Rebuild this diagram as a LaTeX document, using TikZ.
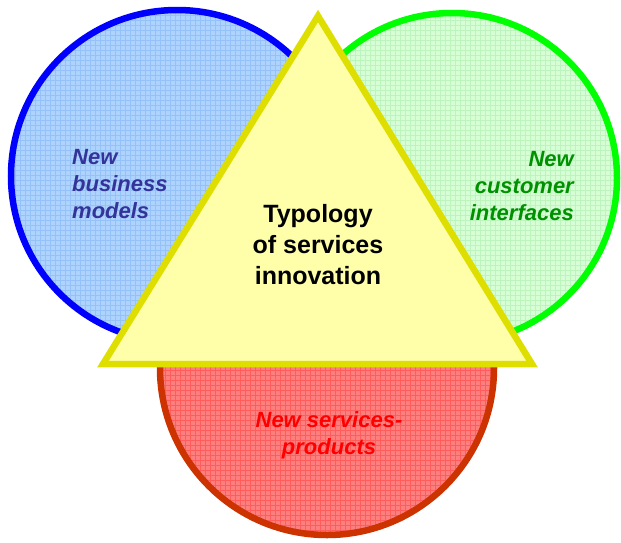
\documentclass[tikz,border=0pt]{standalone}
\usepackage{fontspec}
\setmainfont{Liberation Sans}
\begin{document}
\begin{tikzpicture}[x=1pt,y=-1pt,
  ring/.style={line width=6.5pt},
  gridlines/.style={line width=0.8pt},
  label/.style={inner sep=0pt,font=\fontsize{22}{27}\selectfont\bfseries\itshape},
  title/.style={inner sep=0pt,align=center,font=\fontsize{25}{31}\selectfont\bfseries}]
\definecolor{bluering}{HTML}{0000FF}
\definecolor{bluefill}{HTML}{AED3FF}
\definecolor{bluegrid}{HTML}{93C1F8}
\definecolor{bluetext}{HTML}{333399}
\definecolor{greenring}{HTML}{00FF00}
\definecolor{greenfill}{HTML}{D6FFD6}
\definecolor{greengrid}{HTML}{BDF4BD}
\definecolor{greentext}{HTML}{009100}
\definecolor{redring}{HTML}{CC3300}
\definecolor{redfill}{HTML}{FF7F7F}
\definecolor{redgrid}{HTML}{FF5C5C}
\definecolor{redtext}{HTML}{FF0000}
\definecolor{trifill}{HTML}{FFFFAA}
\definecolor{triring}{HTML}{DEDE00}

\useasboundingbox (0,0) rectangle (621,542);

% products circle (bottom)
\fill[redfill] (327,368) circle[radius=167];
\begin{scope}
  \clip (327,368) circle[radius=167];
  \draw[gridlines,redgrid,step=5pt] (150,190) grid (510,545);
\end{scope}
\draw[ring,redring] (327,368) circle[radius=167];

% business models circle (left)
\fill[bluefill] (177,176) circle[radius=166];
\begin{scope}
  \clip (177,176) circle[radius=166];
  \draw[gridlines,bluegrid,step=5pt] (5,5) grid (350,350);
\end{scope}
\draw[ring,bluering] (177,176) circle[radius=166];

% customer interfaces circle (right)
\fill[greenfill] (452,178) circle[radius=165];
\begin{scope}
  \clip (452,178) circle[radius=165];
  \draw[gridlines,greengrid,step=5pt] (280,5) grid (620,350);
\end{scope}
\draw[ring,greenring] (452,178) circle[radius=165];

% central triangle
\draw[ring,triring,fill=trifill,line join=miter] (318,16) -- (532,364) -- (103,364) -- cycle;

% labels
\node[label,bluetext,align=left,anchor=north west] (business) at (72,149)
  {New\\business\\models};
\node[label,greentext,align=right,anchor=north east] (customer) at (574,151)
  {New\\customer\\interfaces};
\node[label,redtext,align=center,anchor=north] (products) at (329,411)
  {New services-\\products};
\node[title,anchor=north] (typology) at (318,204)
  {Typology\\of services\\innovation};
\end{tikzpicture}
\end{document}
